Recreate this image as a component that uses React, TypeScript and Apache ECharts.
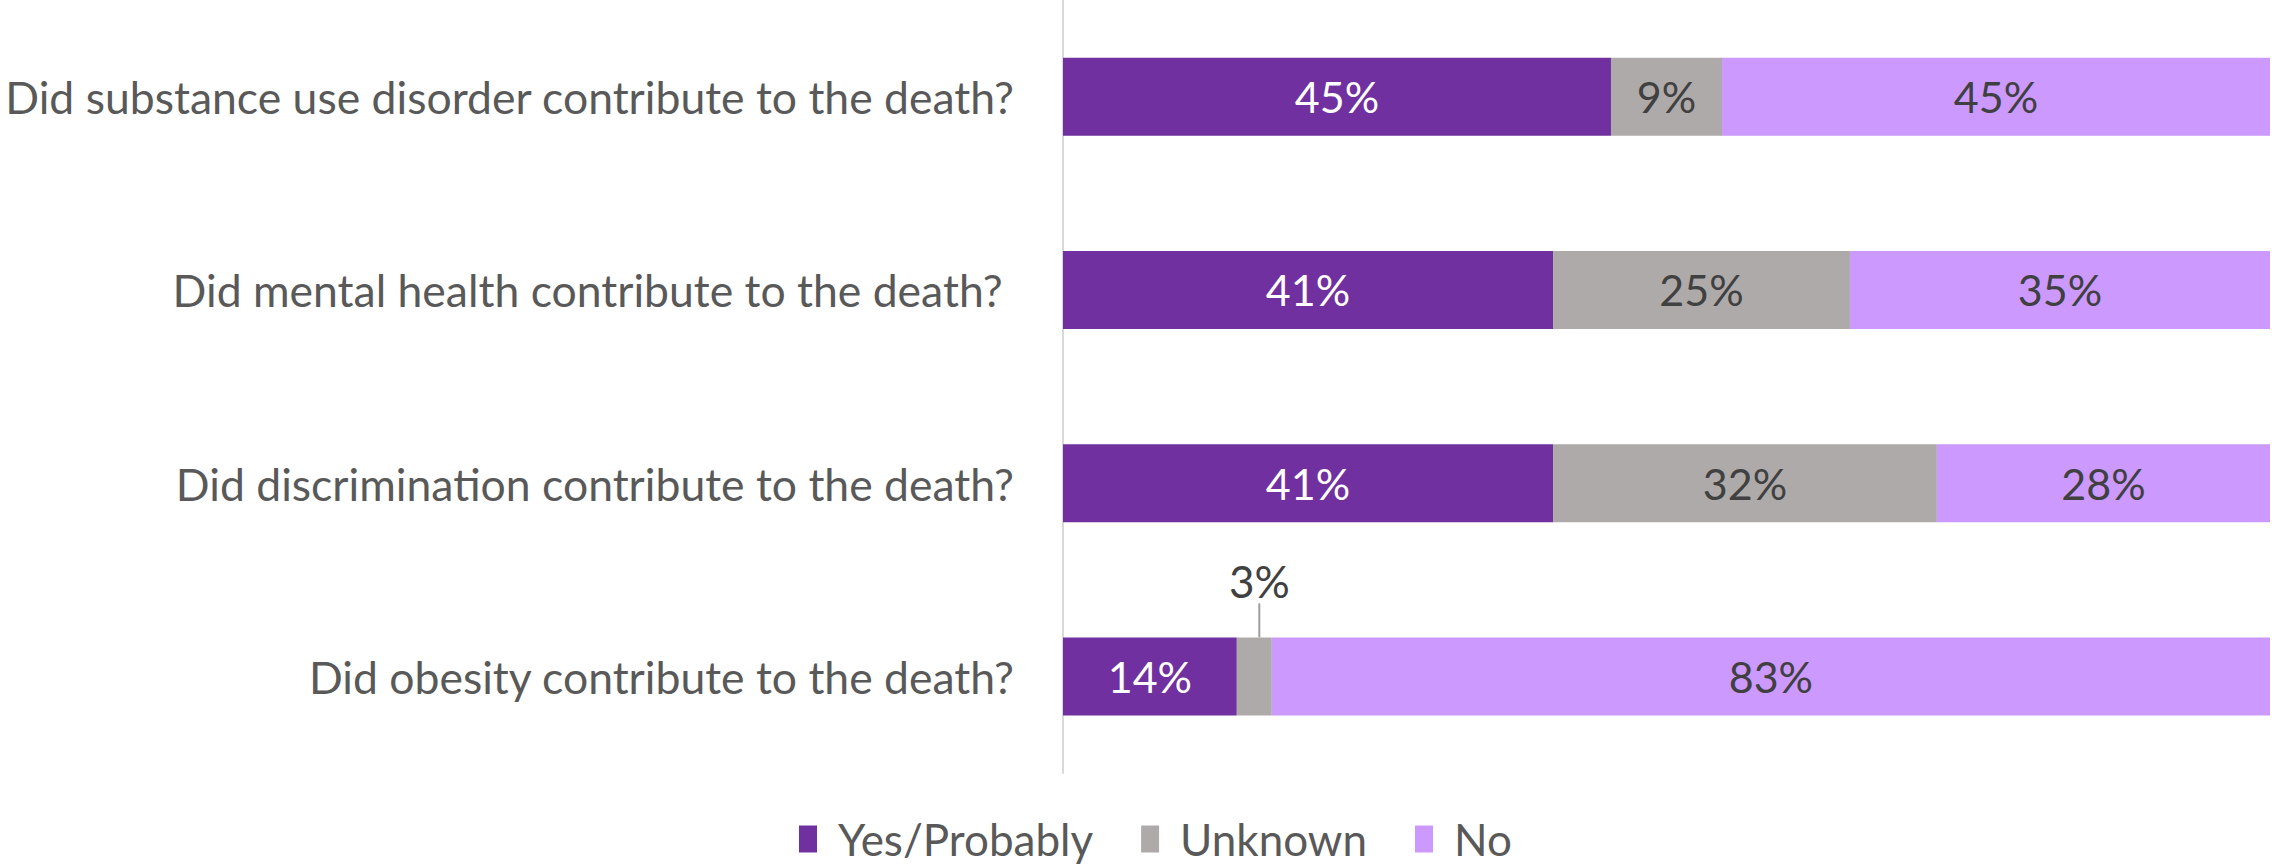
import React, { useEffect, useRef } from "react";
import * as echarts from "echarts";

const categories = [
  "Did substance use disorder contribute to the death?",
  "Did mental health contribute to the death? ",
  "Did discrimination contribute to the death?",
  "Did obesity contribute to the death?",
];
const seriesNames = ["Yes/Probably", "Unknown", "No"];
const yesValues = [45.4, 40.6, 40.6, 14.4];
const unknownValues = [9.2, 24.6, 31.8, 2.9];
const noValues = [45.4, 34.8, 27.6, 82.7];
const calloutIndex = 3;

const FONT = "Lato";

export default function App() {
  const ref = useRef<HTMLDivElement>(null);
  useEffect(() => {
    if (!ref.current) return;
    const chart = echarts.init(ref.current, null, { renderer: "svg" });
    const fmt = (p: any) => Math.round(p.value) + "%";
    const labelBase = {
      show: true,
      position: "inside",
      fontSize: 43,
      fontFamily: FONT,
      formatter: fmt,
    };
    chart.setOption({
      animation: false,
      grid: {
        left: 1063,
        right: 2,
        top: 0,
        bottom: 91,
        containLabel: false,
        outerBoundsMode: "none",
      },
      xAxis: { type: "value", min: 0, max: 100, show: false },
      yAxis: {
        type: "category",
        inverse: true,
        data: categories,
        axisLine: { show: true, lineStyle: { color: "#D9D9D9", width: 2 } },
        axisTick: { show: false },
        axisLabel: { fontSize: 44.5, fontFamily: FONT, color: "#595959", margin: 49 },
      },
      legend: {
        left: 794,
        top: 812,
        itemWidth: 18,
        itemHeight: 27,
        itemGap: 48,
        icon: "rect",
        textStyle: { fontSize: 44, fontFamily: FONT, color: "#595959", padding: [0, 0, 0, 16] },
        data: seriesNames,
      },
      series: [
        {
          name: seriesNames[0],
          type: "bar",
          stack: "total",
          barWidth: 78,
          itemStyle: { color: "#7030A0" },
          label: { ...labelBase, color: "#FFFFFF" },
          data: yesValues,
        },
        {
          name: seriesNames[1],
          type: "bar",
          stack: "total",
          barWidth: 78,
          itemStyle: { color: "#AEAAAA" },
          label: { ...labelBase, color: "#404040" },
          labelLine: { show: false },
          labelLayout: (p: any) =>
            p.dataIndex === calloutIndex ? { dx: 5, dy: -24 } : {},
          data: unknownValues.map((v, i) =>
            i === calloutIndex
              ? {
                  value: v,
                  label: { position: "top", distance: 10, fontSize: 44 },
                  labelLine: { show: true, lineStyle: { color: "#9E9E9E", width: 2 } },
                }
              : v
          ),
        },
        {
          name: seriesNames[2],
          type: "bar",
          stack: "total",
          barWidth: 78,
          itemStyle: { color: "#CC99FF" },
          label: { ...labelBase, color: "#404040" },
          data: noValues,
        },
      ],
    });
    return () => chart.dispose();
  }, []);
  return (
    <div
      ref={ref}
      style={{ position: "fixed", left: 0, top: 0, width: 2272, height: 864, background: "#fff" }}
    />
  );
}
